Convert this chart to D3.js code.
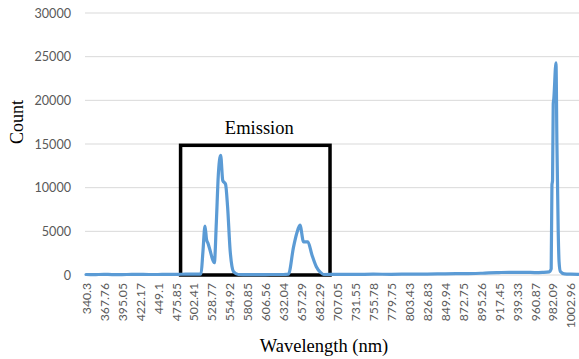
<!DOCTYPE html>
<html>
<head>
<meta charset="utf-8">
<script src="https://cdn.jsdelivr.net/npm/d3@7"></script>
<style>
  body { margin: 0; background: #fff; }
  svg { display: block; }
</style>
</head>
<body>
<div id="chart"></div>
<script>
// category labels shown on the x axis (spectrometer wavelengths, nm)
const tickLabels = [340.3, 367.76, 395.05, 422.17, 449.1, 475.85, 502.41, 528.77, 554.92, 580.85,
  606.56, 632.04, 657.29, 682.29, 707.05, 731.55, 755.78, 779.75, 803.43, 826.83,
  849.94, 872.75, 895.26, 917.45, 939.33, 960.87, 982.09, 1002.96];
const yTicks = [0, 5000, 10000, 15000, 20000, 25000, 30000];

// spectrum
const wavelength = [340.3, 352, 367.76, 380, 395.05, 410, 422.17, 436, 449.1, 462, 475.85, 490, 502.41, 510, 513.2,
  515.9, 519.0, 521.2, 523.5, 526.5, 530.0, 532.7, 535.6, 538.5, 541.9, 545.0, 549.0, 552.0, 555.7, 558.3, 560.4, 567.6,
  580.85, 595, 606.56, 620, 632.04, 639.1, 646.2, 650.9, 655.3, 660.3, 666.3, 672.0, 678.1, 683.8, 688.2,
  707.05, 731.55, 755.78, 779.75, 803.43, 826.83, 849.94, 872.75, 895.26, 905, 917.45, 930, 939.33, 950, 960.87, 970, 978, 980.3,
  981.2, 981.9, 982.7, 983.4, 985.9, 987.0, 988.5, 989.5, 991.0, 995.6, 1002.96, 1012];
const counts = [60, 40, 80, 50, 50, 70, 70, 60, 60, 80, 80, 90, 90, 100, 150,
  2600, 5600, 4100, 3600, 2800, 1800, 1400, 6000, 11500, 13700, 10800, 10400, 7800, 2800, 1000, 400, 60,
  40, 50, 50, 60, 60, 100, 3200, 4800, 5700, 3800, 3800, 2300, 950, 300, 60,
  80, 70, 90, 80, 100, 110, 130, 160, 200, 250, 280, 300, 290, 310, 280, 300, 350, 700,
  10300, 10800, 19600, 20200, 24300, 15000, 5000, 1500, 400, 120, 90, 80];

// annotation box around the emission band, in data units
const emissionBox = { w0: 483, w1: 697, c0: 0, c1: 14850 };
const emissionLabel = "Emission";

const width = 579, height = 359;
const plotLeft = 85, plotRight = 579, plotTop = 13, plotBottom = 275;
const catStart = 86, catStep = 17.95;

const svg = d3.select("#chart").append("svg")
  .attr("width", width)
  .attr("height", height);

// category axis: each label sits at an even step, values in between are interpolated
const xScale = d3.scaleLinear()
  .domain(tickLabels)
  .range(tickLabels.map((d, i) => catStart + i * catStep));

const yScale = d3.scaleLinear()
  .domain([0, 30000])
  .range([plotBottom, plotTop]);

// gridlines
svg.append("g")
  .selectAll("line")
  .data(yTicks)
  .enter()
  .append("line")
  .attr("x1", plotLeft)
  .attr("x2", plotRight)
  .attr("y1", d => yScale(d))
  .attr("y2", d => yScale(d))
  .attr("stroke", "#d9d9d9")
  .attr("stroke-width", 1);

// y axis labels
const yAxis = svg.append("g")
  .attr("transform", `translate(${plotLeft},0)`)
  .call(d3.axisLeft(yScale).tickValues(yTicks).tickSize(0).tickPadding(14).tickFormat(d => d));
yAxis.select(".domain").remove();
yAxis.selectAll("text")
  .attr("font-family", "Lato, 'Open Sans', sans-serif")
  .attr("font-size", "12.6px")
  .attr("fill", "#595959");

// x axis labels, rotated
const xAxis = svg.append("g")
  .attr("transform", `translate(0,${plotBottom})`)
  .call(d3.axisBottom(xScale).tickValues(tickLabels).tickSize(0).tickFormat(d => String(d)));
xAxis.select(".domain").remove();
xAxis.selectAll("text")
  .attr("transform", "rotate(-90)")
  .attr("x", -8)
  .attr("y", 0)
  .attr("dy", "0.35em")
  .attr("text-anchor", "end")
  .attr("font-family", "Lato, 'Open Sans', sans-serif")
  .attr("font-size", "12.2px")
  .attr("fill", "#595959");

// emission box
svg.append("rect")
  .attr("x", xScale(emissionBox.w0))
  .attr("y", yScale(emissionBox.c1))
  .attr("width", xScale(emissionBox.w1) - xScale(emissionBox.w0))
  .attr("height", yScale(emissionBox.c0) - yScale(emissionBox.c1))
  .attr("fill", "none")
  .attr("stroke", "#000")
  .attr("stroke-width", 3.5);

svg.append("text")
  .attr("x", (xScale(emissionBox.w0) + xScale(emissionBox.w1)) / 2 + 4)
  .attr("y", yScale(emissionBox.c1) - 11)
  .attr("text-anchor", "middle")
  .attr("font-family", "'Liberation Serif', 'Times New Roman', serif")
  .attr("font-size", "18.5px")
  .attr("fill", "#000")
  .text(emissionLabel);

// spectrum line
const line = d3.line()
  .x((d, i) => xScale(wavelength[i]))
  .y(d => yScale(d))
  .curve(d3.curveMonotoneX);

svg.append("path")
  .datum(counts)
  .attr("d", line)
  .attr("fill", "none")
  .attr("stroke", "#5b9bd5")
  .attr("stroke-width", 3.2)
  .attr("stroke-linejoin", "round")
  .attr("stroke-linecap", "round");

// axis titles
svg.append("text")
  .attr("transform", `translate(23,122) rotate(-90)`)
  .attr("text-anchor", "middle")
  .attr("font-family", "'Liberation Serif', 'Times New Roman', serif")
  .attr("font-size", "18px")
  .attr("fill", "#000")
  .text("Count");

svg.append("text")
  .attr("x", 324)
  .attr("y", 352)
  .attr("text-anchor", "middle")
  .attr("font-family", "'Liberation Serif', 'Times New Roman', serif")
  .attr("font-size", "18.5px")
  .attr("fill", "#000")
  .text("Wavelength (nm)");
</script>
</body>
</html>
